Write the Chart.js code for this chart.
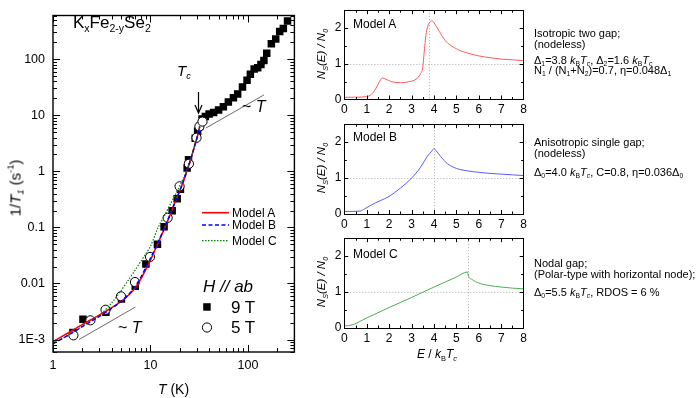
<!DOCTYPE html>
<html>
<head>
<meta charset="utf-8">
<title>KxFe2-ySe2 1/T1</title>
<script src="https://cdn.jsdelivr.net/npm/chart.js@4.4.1/dist/chart.umd.min.js"></script>
<style>
  body { margin: 0; background: #fff; }
  #fig { position: relative; width: 700px; height: 398px; overflow: hidden; font-family: "Liberation Sans", Arial, sans-serif; color: #000; }
  #fig canvas { position: absolute; }
  .lbl { position: absolute; white-space: nowrap; line-height: 1; }
  .lbl sub, .lbl sup { font-size: 62%; line-height: 0; }
  .lbl sub { vertical-align: -0.35em; }
  .lbl sup { vertical-align: 0.75em; }
  .rot { transform: translate(-50%, -50%) rotate(-90deg); }
  .note { font-size: 11px; left: 534px; }
</style>
</head>
<body>
<div id="fig">
  <canvas id="relax" width="300" height="398" style="left:0;top:0"></canvas>
  <canvas id="dosA" width="230" height="120" style="left:300px;top:0"></canvas>
  <canvas id="dosB" width="230" height="120" style="left:300px;top:114px"></canvas>
  <canvas id="dosC" width="230" height="120" style="left:300px;top:228px"></canvas>

  <!-- left panel text -->
  <div class="lbl" style="left:73px;top:14px;font-size:17px">K<sub>x</sub>Fe<sub>2-y</sub>Se<sub>2</sub></div>
  <div class="lbl" style="left:177px;top:63px;font-size:15px"><i>T</i><sub><i>c</i></sub></div>
  <div class="lbl" style="left:242px;top:99px;font-size:16px">~ <i>T</i></div>
  <div class="lbl" style="left:118px;top:320px;font-size:16px">~ <i>T</i></div>
  <div class="lbl" style="left:232px;top:207px;font-size:12px">Model A</div>
  <div class="lbl" style="left:232px;top:219px;font-size:12px">Model B</div>
  <div class="lbl" style="left:232px;top:235px;font-size:12px">Model C</div>
  <div class="lbl" style="left:203px;top:278px;font-size:17px"><i>H // ab</i></div>
  <div class="lbl" style="left:231px;top:299px;font-size:17px">9 T</div>
  <div class="lbl" style="left:231px;top:319px;font-size:17px">5 T</div>
  <div class="lbl" style="left:158px;top:382px;font-size:14px"><i>T</i> (K)</div>
  <div class="lbl rot" style="left:15px;top:188px;font-size:15px">1/<i>T</i><sub><i>1</i></sub> (s<sup>-1</sup>)</div>

  <!-- right panels text -->
  <div class="lbl" style="left:353px;top:18px;font-size:12px">Model A</div>
  <div class="lbl" style="left:353px;top:131px;font-size:12px">Model B</div>
  <div class="lbl" style="left:353px;top:248px;font-size:12px">Model C</div>
  <div class="lbl rot" style="left:322px;top:54px;font-size:11.5px"><i>N<sub>S</sub>(E) / N<sub>0</sub></i></div>
  <div class="lbl rot" style="left:322px;top:168px;font-size:11.5px"><i>N<sub>S</sub>(E) / N<sub>0</sub></i></div>
  <div class="lbl rot" style="left:322px;top:282px;font-size:11.5px"><i>N<sub>S</sub>(E) / N<sub>0</sub></i></div>
  <div class="lbl" style="left:417px;top:348px;font-size:12px"><i>E</i> / <i>k</i><sub>B</sub><i>T</i><sub><i>c</i></sub></div>

  <div class="lbl note" style="top:28px">Isotropic two gap;</div>
  <div class="lbl note" style="top:39px">(nodeless)</div>
  <div class="lbl note" style="top:55px">&Delta;<sub>1</sub>=3.8 <i>k</i><sub>B</sub><i>T</i><sub><i>c</i></sub>, &Delta;<sub>2</sub>=1.6 <i>k</i><sub>B</sub><i>T</i><sub><i>c</i></sub></div>
  <div class="lbl note" style="top:65px">N<sub>1</sub> / (N<sub>1</sub>+N<sub>2</sub>)=0.7, &eta;=0.048&Delta;<sub>1</sub></div>
  <div class="lbl note" style="top:137px">Anisotropic single gap;</div>
  <div class="lbl note" style="top:148px">(nodeless)</div>
  <div class="lbl note" style="top:167px">&Delta;<sub>0</sub>=4.0 <i>k</i><sub>B</sub><i>T</i><sub><i>c</i></sub>, C=0.8, &eta;=0.036&Delta;<sub>0</sub></div>
  <div class="lbl note" style="top:258px">Nodal gap;</div>
  <div class="lbl note" style="top:269px">(Polar-type with horizontal node);</div>
  <div class="lbl note" style="top:287px">&Delta;<sub>0</sub>=5.5 <i>k</i><sub>B</sub><i>T</i><sub><i>c</i></sub>, RDOS = 6 %</div>
</div>

<script>
Chart.defaults.font.family = '"Liberation Sans", Arial, sans-serif';
Chart.defaults.color = '#000';

// ---- left panel: 1/T1 vs T (log-log) ----
const T9 = [1.6, 2.03, 3.49, 5.04, 6.98, 8.98, 11.8, 13.8, 16.7, 18.8, 20.3, 23.8, 24.6, 28.8, 30.5, 32.0, 33.8, 36.6, 40, 44.5,
            50, 56, 63, 71, 78.5, 88, 98, 106, 116, 126, 136, 146, 156, 174, 193, 212, 231, 255];
const R9 = [1.34e-3, 2.3e-3, 3.07e-3, 5.26e-3, 8.9e-3, 0.0222, 0.050, 0.103, 0.199, 0.323, 0.48, 1.15, 1.6, 3.9, 5.2, 6.3, 8.6, 9.5, 10.5, 11.2,
            12.4, 14.1, 17.2, 20.5, 24, 32, 42, 54, 67, 70, 80, 95, 127, 188, 229, 310, 352, 478];
const T5 = [1.62, 2.42, 3.46, 4.98, 6.94, 9.9, 15, 19.9, 24.8, 29.7, 31.8, 34.2];
const R5 = [1.19e-3, 2.2e-3, 3.4e-3, 5.9e-3, 0.0106, 0.0297, 0.148, 0.54, 1.36, 3.96, 6.3, 7.7];

const modelT = [1, 1.5, 2, 3, 4, 5, 6, 7, 8, 9, 10, 12, 14, 16, 18, 20, 22, 25, 28, 30, 32];
const modelA = [9.2e-4, 1.38e-3, 1.85e-3, 2.75e-3, 3.7e-3, 4.8e-3, 6.3e-3, 8.5e-3, 0.0122, 0.018, 0.026, 0.053, 0.098, 0.172, 0.29, 0.45, 0.7, 1.35, 2.6, 3.9, 6.3];
const modelB = [8.4e-4, 1.25e-3, 1.7e-3, 2.6e-3, 3.6e-3, 4.8e-3, 6.4e-3, 8.9e-3, 0.013, 0.0195, 0.028, 0.055, 0.1, 0.175, 0.29, 0.45, 0.7, 1.35, 2.6, 3.9, 6.3];
const modelC = [8.4e-4, 1.25e-3, 1.72e-3, 2.7e-3, 4.5e-3, 7.5e-3, 0.0118, 0.0175, 0.025, 0.034, 0.046, 0.1, 0.165, 0.26, 0.38, 0.55, 0.78, 1.4, 2.6, 3.9, 6.3];

const slopeLowT = [1.85, 7.0];
const slopeLowR = [1.0e-3, 3.8e-3];
const slopeHighT = [37, 146];
const slopeHighR = [5.9, 23];
const tcArrowT = 30.6;
const tcArrowR = [26, 11];

const tempTicks = [1, 10, 100];
const rateTicks = [1e-3, 0.01, 0.1, 1, 10, 100];
const rateTickLabels = ['1E-3', '0.01', '0.1', '1', '10', '100'];

// ---- right panels: normalised DOS ----
const eA = [0, 0.5, 1.0, 1.2, 1.4, 1.55, 1.7, 1.85, 2.1, 2.5, 2.9, 3.2, 3.4, 3.5, 3.56, 3.64, 3.72, 3.8, 3.9, 3.98, 4.1, 4.25, 4.5, 5.0, 5.5, 6.0, 6.5, 7.0, 7.5, 8.0];
const dosA = [0.06, 0.065, 0.08, 0.14, 0.3, 0.48, 0.6, 0.57, 0.5, 0.47, 0.5, 0.57, 0.72, 0.9, 1.3, 1.8, 2.05, 2.15, 2.2, 2.17, 2.05, 1.9, 1.65, 1.42, 1.3, 1.22, 1.17, 1.13, 1.11, 1.09];
const eB = [0, 0.5, 0.7, 0.9, 1.2, 1.6, 2.0, 2.5, 3.0, 3.4, 3.7, 3.9, 4.0, 4.1, 4.3, 4.6, 5.0, 5.5, 6.0, 6.5, 7.0, 7.5, 8.0];
const dosB = [0.07, 0.075, 0.08, 0.14, 0.25, 0.37, 0.49, 0.72, 1.0, 1.3, 1.6, 1.75, 1.82, 1.76, 1.6, 1.4, 1.27, 1.2, 1.16, 1.13, 1.11, 1.09, 1.07];
const eC = [0, 0.25, 1, 2, 3, 4, 5, 5.5, 5.52, 5.7, 6.0, 6.5, 7.0, 7.5, 8.0];
const dosC = [0.06, 0.07, 0.28, 0.57, 0.85, 1.14, 1.42, 1.56, 1.48, 1.35, 1.25, 1.18, 1.14, 1.11, 1.09];
const gapEdges = [3.8, 4.0, 5.5];

const energyTicks = [0, 1, 2, 3, 4, 5, 6, 7, 8];
const dosTicks = [0, 1, 2];

const pts = (xs, ys) => xs.map((x, i) => ({ x: x, y: ys[i] }));

function tickLine(ctx, x1, y1, x2, y2) {
  ctx.beginPath();
  ctx.moveTo(x1, y1);
  ctx.lineTo(x2, y2);
  ctx.stroke();
}

// frame, inward ticks and the hand-drawn legend/arrow of the log plot
const logFrame = {
  id: 'logFrame',
  afterDraw(chart) {
    const { ctx, chartArea: a, scales: { x, y } } = chart;
    ctx.save();
    ctx.strokeStyle = '#000';
    ctx.lineWidth = 1;
    for (let e = 0; e <= 2; e++) {
      for (let k = 1; k <= 9; k++) {
        const v = k * Math.pow(10, e);
        if (v > x.max) break;
        const px = Math.round(x.getPixelForValue(v)) + 0.5;
        const len = k === 1 ? 7 : 4;
        tickLine(ctx, px, a.bottom, px, a.bottom - len);
        tickLine(ctx, px, a.top, px, a.top + len);
      }
    }
    for (let e = -4; e <= 2; e++) {
      for (let k = 1; k <= 9; k++) {
        const v = k * Math.pow(10, e);
        if (v < y.min || v > y.max) continue;
        const py = Math.round(y.getPixelForValue(v)) + 0.5;
        const len = k === 1 ? 7 : 4;
        tickLine(ctx, a.left, py, a.left + len, py);
        tickLine(ctx, a.right, py, a.right - len, py);
      }
    }
    ctx.lineWidth = 1.4;
    ctx.strokeRect(a.left, a.top, a.right - a.left, a.bottom - a.top);

    // legend samples
    const ds = chart.data.datasets;
    [212.7, 225, 240.7].forEach((ly, i) => {
      ctx.strokeStyle = ds[i].borderColor;
      ctx.lineWidth = ds[i].borderWidth;
      ctx.setLineDash(ds[i].borderDash || []);
      tickLine(ctx, 202, ly, 229, ly);
    });
    ctx.setLineDash([]);
    ctx.fillStyle = '#000';
    ctx.fillRect(203.2, 303.2, 7.5, 7.5);
    ctx.beginPath();
    ctx.arc(207, 327.5, 4.6, 0, Math.PI * 2);
    ctx.fillStyle = '#fff';
    ctx.fill();
    ctx.strokeStyle = '#000';
    ctx.lineWidth = 1;
    ctx.stroke();

    // Tc arrow
    const ax = Math.round(x.getPixelForValue(tcArrowT)) + 0.5;
    const y0 = y.getPixelForValue(tcArrowR[0]);
    const y1 = y.getPixelForValue(tcArrowR[1]);
    ctx.lineWidth = 1.2;
    tickLine(ctx, ax, y0, ax, y1);
    ctx.beginPath();
    ctx.moveTo(ax - 3.5, y1 - 8);
    ctx.lineTo(ax, y1);
    ctx.lineTo(ax + 3.5, y1 - 8);
    ctx.stroke();
    ctx.restore();
  }
};

new Chart(document.getElementById('relax'), {
  type: 'scatter',
  data: {
    datasets: [
      { label: 'Model A', data: pts(modelT, modelA), showLine: true, borderColor: '#ff0000', borderWidth: 1.6, pointRadius: 0, tension: 0.3, order: 3 },
      { label: 'Model B', data: pts(modelT, modelB), showLine: true, borderColor: '#0000ff', borderWidth: 1.5, borderDash: [4, 2.5], pointRadius: 0, tension: 0.3, order: 1 },
      { label: 'Model C', data: pts(modelT, modelC), showLine: true, borderColor: '#008000', borderWidth: 1.2, borderDash: [1.5, 1.5], pointRadius: 0, tension: 0.3, order: 2 },
      { label: '5 T', data: pts(T5, R5), pointStyle: 'circle', pointRadius: 4.6, backgroundColor: '#fff', borderColor: '#000', borderWidth: 1, order: 4 },
      { label: '9 T', data: pts(T9, R9), pointStyle: 'rect', pointRadius: 5.3, backgroundColor: '#000', borderColor: '#000', borderWidth: 0, order: 5 },
      { label: '~T low', data: pts(slopeLowT, slopeLowR), showLine: true, borderColor: '#444', borderWidth: 0.8, pointRadius: 0, order: 6 },
      { label: '~T high', data: pts(slopeHighT, slopeHighR), showLine: true, borderColor: '#444', borderWidth: 0.8, pointRadius: 0, order: 6 }
    ]
  },
  options: {
    responsive: false,
    animation: false,
    layout: { padding: { top: 2, right: 4, left: 0, bottom: 0 } },
    plugins: { legend: { display: false }, tooltip: { enabled: false } },
    scales: {
      x: {
        type: 'logarithmic', min: 1, max: 300,
        grid: { display: false, drawTicks: false }, border: { display: false },
        ticks: { font: { size: 12.5 }, padding: 6, maxRotation: 0, autoSkip: false, callback: (v) => String(v) },
        afterBuildTicks: (s) => { s.ticks = tempTicks.map(v => ({ value: v })); },
        afterFit: (s) => { s.height = 46; }
      },
      y: {
        type: 'logarithmic', min: 6e-4, max: 600,
        grid: { display: false, drawTicks: false }, border: { display: false },
        ticks: { font: { size: 12.5 }, padding: 8, autoSkip: false, callback: (v, i) => rateTickLabels[i] },
        afterBuildTicks: (s) => { s.ticks = rateTicks.map(v => ({ value: v })); },
        afterFit: (s) => { s.width = 53; }
      }
    }
  },
  plugins: [logFrame]
});

// frame, inward ticks and dotted guides of a DOS panel
const dosFrame = {
  id: 'dosFrame',
  beforeDatasetsDraw(chart, args, opts) {
    const { ctx, chartArea: a, scales: { x, y } } = chart;
    ctx.save();
    ctx.strokeStyle = '#999';
    ctx.lineWidth = 0.8;
    ctx.setLineDash([1, 2]);
    const py = Math.round(y.getPixelForValue(1)) + 0.5;
    tickLine(ctx, a.left, py, a.right, py);
    const px = Math.round(x.getPixelForValue(opts.gap)) + 0.5;
    tickLine(ctx, px, a.top, px, a.bottom);
    ctx.restore();
  },
  afterDraw(chart) {
    const { ctx, chartArea: a, scales: { x, y } } = chart;
    ctx.save();
    ctx.strokeStyle = '#000';
    ctx.lineWidth = 1;
    for (let v = 0.5; v < 8; v += 0.5) {
      const px = Math.round(x.getPixelForValue(v)) + 0.5;
      const len = v % 1 === 0 ? 4 : 2.5;
      tickLine(ctx, px, a.bottom, px, a.bottom - len);
      tickLine(ctx, px, a.top, px, a.top + len);
    }
    for (let v = 0.5; v < 2.5; v += 0.5) {
      const py = Math.round(y.getPixelForValue(v)) + 0.5;
      const len = v % 1 === 0 ? 4 : 2.5;
      tickLine(ctx, a.left, py, a.left + len, py);
      tickLine(ctx, a.right, py, a.right - len, py);
    }
    ctx.strokeRect(Math.round(a.left) + 0.5, Math.round(a.top) + 0.5, Math.round(a.right - a.left), Math.round(a.bottom - a.top));
    ctx.restore();
  }
};

function dosPanel(id, e, dos, color, gap, top) {
  return new Chart(document.getElementById(id), {
    type: 'scatter',
    data: { datasets: [{ data: pts(e, dos), showLine: true, borderColor: color, borderWidth: 1, pointRadius: 0, cubicInterpolationMode: 'monotone' }] },
    options: {
      responsive: false,
      animation: false,
      layout: { padding: { top: top, right: 4.3, left: 0, bottom: 0 } },
      plugins: { legend: { display: false }, tooltip: { enabled: false }, dosFrame: { gap: gap } },
      scales: {
        x: {
          type: 'linear', min: 0, max: 8,
          grid: { display: false, drawTicks: false }, border: { display: false },
          ticks: { font: { size: 12 }, padding: 3, maxRotation: 0, autoSkip: false },
          afterBuildTicks: (s) => { s.ticks = energyTicks.map(v => ({ value: v })); },
          afterFit: (s) => { s.height = 120 - top - 91.5; }
        },
        y: {
          type: 'linear', min: 0, max: 2.5,
          grid: { display: false, drawTicks: false }, border: { display: false },
          ticks: { font: { size: 12 }, padding: 3, autoSkip: false },
          afterBuildTicks: (s) => { s.ticks = dosTicks.map(v => ({ value: v })); },
          afterFit: (s) => { s.width = 44.3; }
        }
      }
    },
    plugins: [dosFrame]
  });
}

dosPanel('dosA', eA, dosA, '#ff5a5a', gapEdges[0], 8);
dosPanel('dosB', eB, dosB, '#5a5aff', gapEdges[1], 8.5);
dosPanel('dosC', eC, dosC, '#4caf4c', gapEdges[2], 8.5);
</script>
</body>
</html>
